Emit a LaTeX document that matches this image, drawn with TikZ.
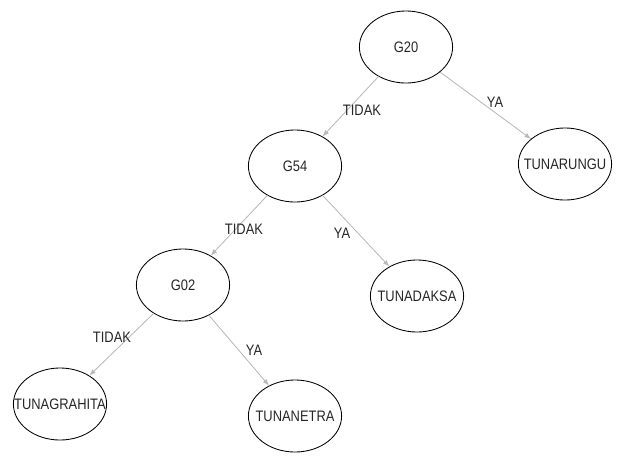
\documentclass[tikz,border=0pt]{standalone}
\usepackage{fontspec}
\setmainfont{Liberation Sans}[FakeStretch=0.85]
\usetikzlibrary{shapes.geometric}
\begin{document}
\begin{tikzpicture}[x=0.025cm,y=-0.025cm]
	    \tikzset{>=latex}
	    \tikzset{kelas/.style={draw,ellipse,line width=0.6pt,minimum width=2.33cm,minimum height=1.8cm,inner sep=0pt,font=\fontsize{10.8}{12}\selectfont,text=black!85}}
	    \tikzset{cabang/.style={->,draw=black!28,line width=0.6pt}}
	    \tikzset{jawab/.style={inner sep=0pt,font=\fontsize{10.8}{12}\selectfont,text=black!85}}
	    \useasboundingbox (0,0) rectangle (624,455);
	    \node[kelas] (G20) at (406,47) {\makebox[0pt]{G20}};
	    \node[kelas] (G54) at (295,166) {\makebox[0pt]{G54}};
	    \node[kelas] (G02) at (183,285) {\makebox[0pt]{G02}};
	    \node[kelas] (TUNARUNGU) at (565,164) {\makebox[0pt]{TUNARUNGU}};
	    \node[kelas] (TUNADAKSA) at (417,296) {\makebox[0pt]{TUNADAKSA}};
	    \node[kelas] (TUNAGRAHITA) at (60,404) {\makebox[0pt]{TUNAGRAHITA}};
	    \node[kelas] (TUNANETRA) at (295,416) {\makebox[0pt]{TUNANETRA}};
	    \draw[cabang] (G20) -- (G54);
	    \draw[cabang] (G20) -- (TUNARUNGU);
	    \draw[cabang] (G54) -- (G02);
	    \draw[cabang] (G54) -- (TUNADAKSA);
	    \draw[cabang] (G02) -- (TUNAGRAHITA);
	    \draw[cabang] (G02) -- (TUNANETRA);
	    \node[jawab] (t1) at (362,110) {TIDAK};
	    \node[jawab] (y1) at (495,102) {YA};
	    \node[jawab] (t2) at (244,229) {TIDAK};
	    \node[jawab] (y2) at (342,233) {YA};
	    \node[jawab] (t3) at (112,337) {TIDAK};
	    \node[jawab] (y3) at (254,350) {YA};
\end{tikzpicture}
\end{document}
